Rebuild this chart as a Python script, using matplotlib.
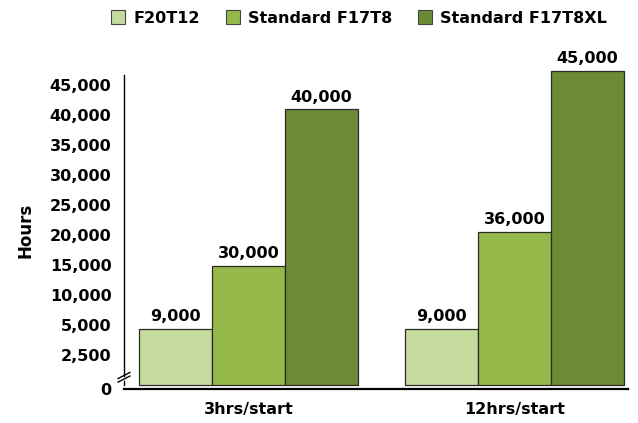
import numpy as np
import matplotlib.pyplot as plt
from matplotlib.patches import Patch

# categories and series
groups = ['3hrs/start', '12hrs/start']
series = ['F20T12', 'Standard F17T8', 'Standard F17T8XL']
colors = ['#c5db9d', '#94b94a', '#6b8c35']

# labelled lamp life (hours)
hours = [[9000, 9000], [30000, 36000], [40000, 45000]]
# drawn bar heights in tick-step units
# (the original graphic is schematic: ticks are evenly spaced, not linear)
bar_heights = [[1.87, 1.87], [3.98, 5.10], [9.18, 10.46]]

tick_labels = ['0', '2,500', '5,000', '10,000', '15,000', '20,000',
               '25,000', '30,000', '35,000', '40,000', '45,000']

plt.rcParams['font.family'] = 'DejaVu Sans'
plt.rcParams['font.weight'] = 'bold'

fig = plt.figure(figsize=(6.38, 4.23), dpi=100)
ax = fig.add_axes([124 / 638, 34 / 423, 504 / 638, 319.2 / 423])

x = np.arange(len(groups))
w = 0.274
for i, name in enumerate(series):
    pos = x + (i - 1) * w
    ax.bar(pos, bar_heights[i], width=w, color=colors[i],
           edgecolor='#2a2a2a', linewidth=0.9, clip_on=False, zorder=3)
    for px, h, v in zip(pos, bar_heights[i], hours[i]):
        ax.text(px, h + 0.15, f'{v:,}', ha='center', va='bottom',
                fontsize=11.5, fontweight='bold', clip_on=False)

ax.set_xlim(-0.468, 1.427)
ax.set_ylim(0, 10.5)

# y ticks evenly spaced, zero label nudged below baseline
ypos = [-0.13] + list(range(1, len(tick_labels)))
ax.set_yticks(ypos)
ax.set_yticklabels(tick_labels, fontsize=11.5, fontweight='bold')
ax.tick_params(axis='y', length=0, pad=9)
ax.set_xticks(x)
ax.set_xticklabels(groups, fontsize=11.5, fontweight='bold')
ax.tick_params(axis='x', length=0, pad=9)

for s in ['top', 'right']:
    ax.spines[s].set_visible(False)
ax.spines['left'].set_bounds(0.3, 10.33)
ax.spines['left'].set_linewidth(1.0)
ax.spines['bottom'].set_linewidth(1.6)

# axis break marks
ax.plot([-0.468, -0.468], [0, 0.12], color='black', lw=1.0, clip_on=False)
for dy in [0.0, 0.12]:
    ax.plot([-0.49, -0.446], [0.1 + dy, 0.3 + dy], color='black', lw=1.0,
            clip_on=False)

fig.text(25 / 638, 1 - 230 / 423, 'Hours', rotation=90, ha='center',
         va='center', fontsize=12, fontweight='bold')

handles = [Patch(facecolor=c, edgecolor='#444444', linewidth=0.8) for c in colors]
fig.legend(handles, series, loc='center', bbox_to_anchor=(359 / 638, 1 - 18 / 423),
           ncol=3, frameon=False, fontsize=11.5, handlelength=0.9,
           handleheight=0.9, handletextpad=0.5, columnspacing=1.6)

fig.savefig('out.png', dpi=100)
